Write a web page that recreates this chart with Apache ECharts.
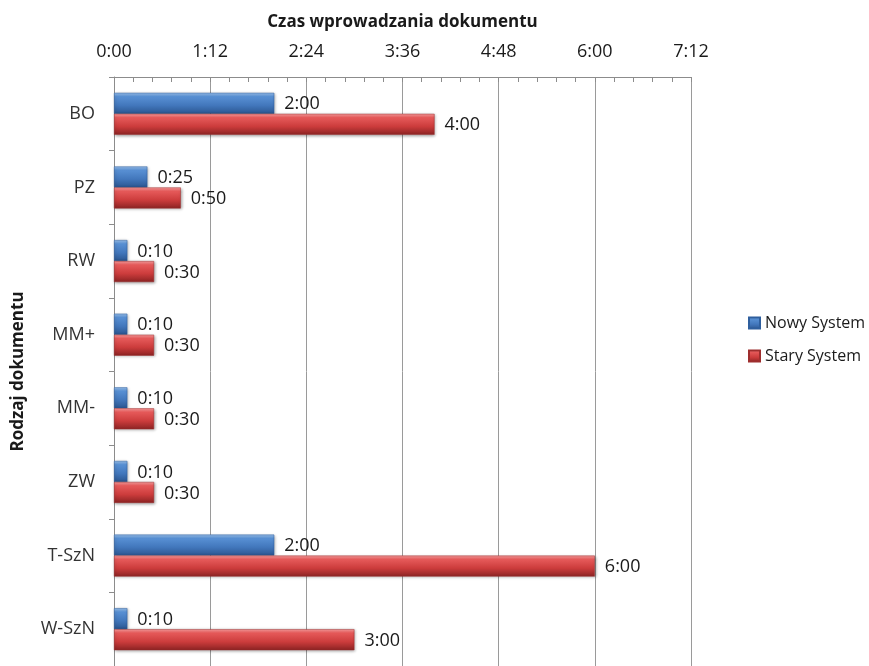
<!DOCTYPE html>
<html>
<head>
<meta charset="utf-8">
<script src="https://cdn.jsdelivr.net/npm/echarts@6/dist/echarts.min.js"></script>
<style>html,body{margin:0;padding:0;background:#fff}#c{width:869px;height:666px}</style>
</head>
<body>
<div id="c"></div>
<script>
// Data (values in minutes, displayed as h:mm)
var categories = ['BO', 'PZ', 'RW', 'MM+', 'MM-', 'ZW', 'T-SzN', 'W-SzN'];
var nowySystem = [120, 25, 10, 10, 10, 10, 120, 10];
var starySystem = [240, 50, 30, 30, 30, 30, 360, 180];
var xTickLabels = ['0:00', '1:12', '2:24', '3:36', '4:48', '6:00', '7:12'];
var seriesNames = ['Nowy System', 'Stary System'];
var xAxisTitle = 'Czas wprowadzania dokumentu';
var yAxisTitle = 'Rodzaj dokumentu';

function fmt(v) {
  var h = Math.floor(v / 60), m = Math.round(v % 60);
  return h + ':' + (m < 10 ? '0' : '') + m;
}
var FONT = 'Open Sans';
function grad(stops) {
  return new echarts.graphic.LinearGradient(0, 0, 0, 1, stops.map(function (s) { return { offset: s[0], color: s[1] }; }));
}
var blue = grad([[0, '#9cc4f0'], [0.18, '#5890d4'], [0.6, '#4277bc'], [1, '#2b5690']]);
var red = grad([[0, '#ffa0a0'], [0.18, '#e65a5a'], [0.6, '#cc3c3c'], [1, '#8c2323']]);

var chart = echarts.init(document.getElementById('c'));
chart.setOption({
  animation: false,
  textStyle: { fontFamily: FONT },
  grid: { left: 114, top: 77, width: 577, height: 593, containLabel: false },
  legend: {
    orient: 'vertical', left: 743, top: 310,
    itemWidth: 11, itemHeight: 11, itemGap: 17, icon: 'rect',
    textStyle: { fontFamily: FONT, fontSize: 16, color: '#1a1a1a' },
    data: seriesNames
  },
  xAxis: {
    type: 'value', position: 'top', min: 0, max: 432, interval: 72,
    name: xAxisTitle, nameLocation: 'middle', nameGap: 46,
    nameTextStyle: { fontFamily: FONT, fontSize: 17, fontWeight: 'bold', color: '#1a1a1a' },
    axisLine: { show: true, lineStyle: { color: '#8c8c8c' } },
    axisTick: { show: true, inside: true, length: 5, lineStyle: { color: '#8c8c8c' } },
    minorTick: { show: true, splitNumber: 5, length: 5, lineStyle: { color: '#8c8c8c' } },
    splitLine: { show: true, lineStyle: { color: '#9a9a9a' } },
    axisLabel: {
      margin: 16, fontSize: 18, color: '#1a1a1a', fontFamily: FONT,
      formatter: function (v) { return xTickLabels[Math.round(v / 72)]; }
    }
  },
  yAxis: {
    type: 'category', inverse: true, data: categories,
    name: yAxisTitle, nameLocation: 'middle', nameGap: 87, nameRotate: 90,
    nameTextStyle: { fontFamily: FONT, fontSize: 17, fontWeight: 'bold', color: '#1a1a1a' },
    axisLine: { show: true, lineStyle: { color: '#8c8c8c' } },
    axisTick: { show: true, length: 5, lineStyle: { color: '#8c8c8c' } },
    axisLabel: { margin: 19, fontSize: 18, color: '#333', fontFamily: FONT }
  },
  series: [
    {
      name: seriesNames[0], type: 'bar', data: nowySystem,
      barWidth: 21, barGap: '0%',
      itemStyle: { color: blue, borderColor: '#2f5f9e', borderWidth: 0.5, shadowColor: 'rgba(0,0,0,0.35)', shadowBlur: 3, shadowOffsetY: 1, shadowOffsetX: 1 },
      label: { show: true, position: 'right', distance: 10, offset: [0, 1], fontSize: 18, color: '#1a1a1a', fontFamily: FONT, formatter: function (p) { return fmt(p.value); } }
    },
    {
      name: seriesNames[1], type: 'bar', data: starySystem,
      barWidth: 21,
      itemStyle: { color: red, borderColor: '#9e2e2e', borderWidth: 0.5, shadowColor: 'rgba(0,0,0,0.35)', shadowBlur: 3, shadowOffsetY: 1, shadowOffsetX: 1 },
      label: { show: true, position: 'right', distance: 10, offset: [0, 1], fontSize: 18, color: '#1a1a1a', fontFamily: FONT, formatter: function (p) { return fmt(p.value); } }
    }
  ]
});
</script>
</body>
</html>
